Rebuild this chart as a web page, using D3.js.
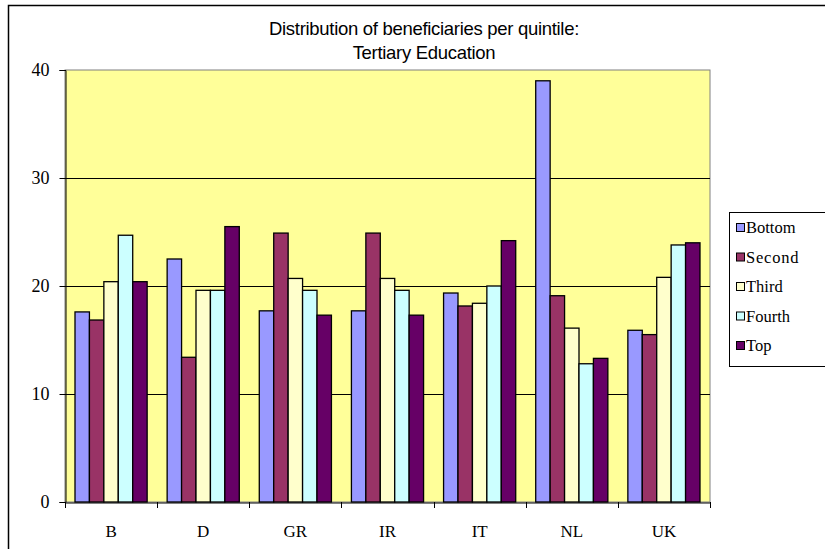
<!DOCTYPE html>
<html>
<head>
<meta charset="utf-8">
<script src="https://cdn.jsdelivr.net/npm/d3@7"></script>
<style>
  body { margin: 0; background: #fff; }
  svg { display: block; }
</style>
</head>
<body>
<div id="chart-wrapper"></div>
<script>
const countries = ["B", "D", "GR", "IR", "IT", "NL", "UK"];
const quintiles = ["Bottom", "Second", "Third", "Fourth", "Top"];
const bottom = [17.6, 22.5, 17.7, 17.7, 19.35, 39.0, 15.9];
const second = [16.85, 13.4, 24.9, 24.9, 18.15, 19.1, 15.5];
const third = [20.4, 19.6, 20.7, 20.7, 18.4, 16.1, 20.8];
const fourth = [24.7, 19.6, 19.6, 19.6, 20.0, 12.8, 23.8];
const top5 = [20.4, 25.5, 17.3, 17.3, 24.2, 13.3, 24.0];
const yTicks = [0, 10, 20, 30, 40];

const colors = ["#9999ff", "#993366", "#ffffcc", "#ccffff", "#660066"];
const series = [bottom, second, third, fourth, top5];

const SERIF = "'Liberation Serif', 'Times New Roman', serif";
const SANS = "'Liberation Sans', Arial, sans-serif";

const W = 825, H = 549;
const plot = {left: 65, right: 710, top: 70, bottom: 502};

const svg = d3.select("#chart-wrapper").append("svg")
    .attr("width", W).attr("height", H);

// outer chart border (cut on right and bottom)
svg.append("rect")
    .attr("x", 8.5).attr("y", 5.5)
    .attr("width", 830).attr("height", 560)
    .attr("fill", "none").attr("stroke", "#000").attr("stroke-width", 1.5);

let x0 = d3.scaleBand().domain(countries).range([plot.left, plot.right]).paddingInner(0).paddingOuter(0);
let x1 = d3.scaleBand().domain(quintiles).range([10, x0.bandwidth() - 10]);
let y = d3.scaleLinear().domain([0, 40]).range([plot.bottom, plot.top]);

// plot background
svg.append("rect")
    .attr("x", plot.left).attr("y", plot.top)
    .attr("width", plot.right - plot.left).attr("height", plot.bottom - plot.top)
    .attr("fill", "#ffff99").attr("stroke", "#808080").attr("stroke-width", 1);

// gridlines
svg.append("g").selectAll("line")
    .data(yTicks.filter(d => d > 0 && d < 40))
    .join("line")
    .attr("x1", plot.left).attr("x2", plot.right)
    .attr("y1", d => Math.round(y(d)) + 0.5).attr("y2", d => Math.round(y(d)) + 0.5)
    .attr("stroke", "#000").attr("stroke-width", 1);

// bars
let rows = [];
countries.forEach((c, i) => {
    quintiles.forEach((q, j) => rows.push({c: c, q: q, v: series[j][i], color: colors[j]}));
});

svg.append("g").attr("id", "bars")
    .selectAll("rect")
    .data(rows)
    .join("rect")
    .attr("x", d => x0(d.c) + x1(d.q))
    .attr("y", d => y(d.v))
    .attr("width", x1.bandwidth())
    .attr("height", d => y(0) - y(d.v))
    .attr("fill", d => d.color)
    .attr("stroke", "#000")
    .attr("stroke-width", 1.3);

// y axis
let yAxis = d3.axisLeft(y).tickValues(yTicks).tickSize(6).tickPadding(10);
let gy = svg.append("g")
    .attr("transform", `translate(${plot.left + 0.5},0)`)
    .call(yAxis);
gy.select(".domain").attr("stroke", "#000");
gy.selectAll(".tick line").attr("stroke", "#000");
gy.selectAll("text")
    .style("font-family", SERIF)
    .style("font-size", "18px").attr("fill", "#000");

// x axis
let xAxis = d3.axisBottom(x0).tickSize(0).tickPadding(22);
let gx = svg.append("g")
    .attr("transform", `translate(0,${plot.bottom + 0.5})`)
    .call(xAxis);
gx.select(".domain").attr("stroke", "#000");
gx.selectAll("text")
    .style("font-family", SERIF)
    .style("font-size", "17px").attr("fill", "#000");
// category separators
svg.append("g").selectAll("line")
    .data(countries.concat(["end"]))
    .join("line")
    .attr("x1", (d, i) => Math.round(plot.left + i * x0.bandwidth()) + 0.5)
    .attr("x2", (d, i) => Math.round(plot.left + i * x0.bandwidth()) + 0.5)
    .attr("y1", plot.bottom).attr("y2", plot.bottom + 6)
    .attr("stroke", "#000");

// title
let title = svg.append("text")
    .attr("text-anchor", "middle")
    .style("font-family", SANS)
    .style("font-size", "18.5px")
    .style("letter-spacing", "-0.3px")
    .attr("fill", "#000");
title.append("tspan").attr("x", 424).attr("y", 35).text("Distribution of beneficiaries per quintile:");
title.append("tspan").attr("x", 424).attr("y", 59).text("Tertiary Education");

// legend
let legend = svg.append("g");
legend.append("rect")
    .attr("x", 729.5).attr("y", 212.5)
    .attr("width", 110).attr("height", 154)
    .attr("fill", "#fff").attr("stroke", "#000").attr("stroke-width", 1);
let items = legend.selectAll("g.item")
    .data(quintiles)
    .join("g").classed("item", true)
    .attr("transform", (d, i) => `translate(736,${228 + i * 29.5})`);
items.append("rect")
    .attr("x", 0.5).attr("y", -4.5)
    .attr("width", 8).attr("height", 8)
    .attr("fill", (d, i) => colors[i])
    .attr("stroke", "#000");
items.append("text")
    .attr("x", 10).attr("y", 5)
    .style("font-family", SERIF)
    .style("font-size", "16.5px")
    .style("letter-spacing", d => d === "Second" ? "0.8px" : "0px")
    .text(d => d);
</script>
</body>
</html>
